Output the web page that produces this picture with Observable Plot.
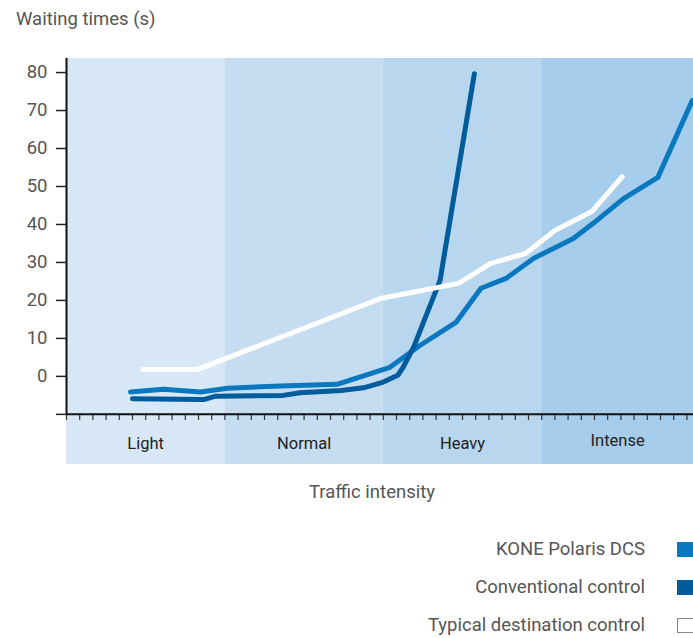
<!DOCTYPE html>
<html>
<head>
<meta charset="utf-8">
<script src="https://cdn.jsdelivr.net/npm/d3@7"></script>
<script src="https://cdn.jsdelivr.net/npm/@observablehq/plot@0.6"></script>
<style>
  html, body { margin: 0; padding: 0; background: #fff; }
  body { width: 693px; height: 638px; position: relative; overflow: hidden; font-family: Roboto, "Noto Sans", sans-serif; }
  #title { position: absolute; left: 16px; top: 8px; font-size: 18.5px; color: #555; }
  #chart { position: absolute; left: 0; top: 40px; }
  #xlabel { position: absolute; left: 0; width: 744px; text-align: center; top: 481px; font-size: 18.5px; color: #555; }
  .leg-text { position: absolute; right: 48px; font-size: 18.5px; color: #555; white-space: nowrap; line-height: 22px; }
  .leg-sw { position: absolute; left: 677px; width: 17px; height: 15px; box-sizing: border-box; }
</style>
</head>
<body>
<div id="title">Waiting times (s)</div>
<div id="chart"></div>
<div id="xlabel">Traffic intensity</div>
<div id="legend"></div>
<script>
// ---- data ----
const categories = ["Light", "Normal", "Heavy", "Intense"];
const bandStart = [0, 12, 24, 36];
const bandEnd = [12, 24, 36, 48];
const bandColors = ["#d7e7f6", "#c6ddf1", "#b8d6ee", "#a6cdeb"];

const yTicks = [-10, 0, 10, 20, 30, 40, 50, 60, 70, 80];
const xTicks = d3.range(0, 48);

const polarisX = [4.85, 7.35, 10.15, 12.2, 16.2, 20.5, 24.5, 26.8, 29.5, 31.4, 33.3, 35.4, 38.4, 39.9, 42.2, 44.8, 47.4];
const polarisY = [-4.1, -3.4, -4.1, -3.1, -2.5, -2.1, 2.4, 8.2, 14.2, 23.2, 25.8, 31.1, 36.3, 40.3, 46.8, 52.4, 72.6];

const conventionalX = [5.0, 10.4, 11.3, 16.4, 17.7, 20.8, 22.5, 24.0, 25.1, 25.5, 26.3, 28.3, 30.9];
const conventionalY = [-5.9, -6.1, -5.2, -5.0, -4.3, -3.7, -3.0, -1.5, 0.3, 2.4, 7.7, 25.3, 79.7];

const typicalX = [5.8, 9.9, 23.8, 29.7, 32.1, 34.8, 37.0, 39.8, 42.1];
const typicalY = [1.8, 1.8, 20.5, 24.5, 29.7, 32.4, 38.4, 43.4, 52.6];

const seriesNames = ["KONE Polaris DCS", "Conventional control", "Typical destination control"];
const seriesColors = ["#0a78bf", "#005c9c", "#ffffff"];

// ---- tables built from arrays ----
const bands = categories.map((c, i) => ({c, x1: bandStart[i], x2: bandEnd[i], fill: bandColors[i]}));
const toPts = (xs, ys) => xs.map((x, i) => ({x, y: ys[i]}));
const polaris = toPts(polarisX, polarisY);
const conventional = toPts(conventionalX, conventionalY);
const typical = toPts(typicalX, typicalY);

const yLow = -23.2, yTop = 83.7, yAxisBase = -10;

const chart = Plot.plot({
  width: 693,
  height: 440,
  marginLeft: 66,
  marginRight: 0,
  marginTop: 18,
  marginBottom: 16,
  style: {fontFamily: "Roboto, 'Noto Sans', sans-serif", background: "transparent"},
  x: {domain: [0, 47.5], axis: null},
  y: {domain: [yLow, yTop], axis: null},
  color: {type: "identity"},
  marks: [
    Plot.rect(bands, {x1: "x1", x2: "x2", y1: yLow, y2: yTop, fill: "fill", clip: true}),
    Plot.text(bands, {x: d => (d.x1 + Math.min(d.x2, 47.5)) / 2, y: d => d.c === "Intense" ? -17 : -17.8, text: "c", fontSize: 16.5, fill: "#222"}),
    Plot.line(polaris, {x: "x", y: "y", stroke: seriesColors[0], strokeWidth: 5, strokeLinejoin: "round", clip: true}),
    Plot.line(conventional, {x: "x", y: "y", stroke: seriesColors[1], strokeWidth: 5, strokeLinejoin: "round", clip: true}),
    Plot.line(typical, {x: "x", y: "y", stroke: seriesColors[2], strokeWidth: 5, strokeLinejoin: "round", clip: true}),
    Plot.ruleX(xTicks, {x: d => d, y1: yAxisBase, y2: yAxisBase - 1.6, stroke: "#333", strokeWidth: 1.2}),
    Plot.ruleY([yAxisBase], {x1: 0, x2: 47.5, stroke: "#111", strokeWidth: 2}),
    Plot.ruleX([0], {y1: yAxisBase, y2: yTop, stroke: "#111", strokeWidth: 2}),
    Plot.axisY({
      ticks: yTicks,
      tickSize: 10,
      tickPadding: 9,
      tickFormat: d => d === -10 ? "" : String(d),
      fontSize: 18.5,
      fill: "#555",
      stroke: "#222",
      strokeWidth: 1.5,
      label: null
    })
  ]
});
document.getElementById("chart").appendChild(chart);

// ---- legend ----
const legendTops = [549, 587, 625];
const legend = document.getElementById("legend");
seriesNames.forEach((name, i) => {
  const t = document.createElement("div");
  t.className = "leg-text";
  t.style.top = (legendTops[i] - 11) + "px";
  t.textContent = name;
  legend.appendChild(t);
  const s = document.createElement("div");
  s.className = "leg-sw";
  s.style.top = (legendTops[i] - 7) + "px";
  s.style.background = seriesColors[i];
  if (seriesColors[i] === "#ffffff") s.style.border = "1.3px solid #888";
  legend.appendChild(s);
});
</script>
</body>
</html>
